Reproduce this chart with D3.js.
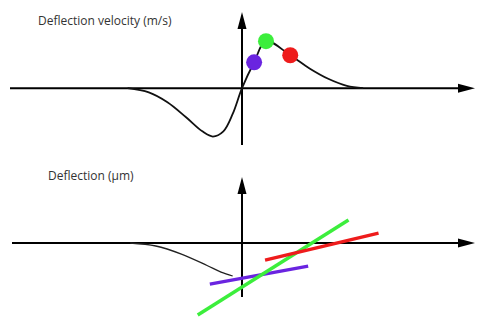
<!DOCTYPE html>
<html>
<head>
<meta charset="utf-8">
<script src="https://cdn.jsdelivr.net/npm/d3@7"></script>
<style>
  body { margin: 0; background: #fff; }
  .title { font-family: "Open Sans", sans-serif; font-size: 12px; fill: #333; }
</style>
</head>
<body>
<div id="chart"></div>
<script>
// velocity trace (time, velocity)
var velTime = [-4.91, -4.0, -3.2, -2.4, -1.7, -1.25, -0.8, -0.4, 0, 0.52, 1.03, 2.07, 2.9, 3.7, 4.5, 5.2];
var velValue = [0, -0.09, -0.3, -0.62, -0.92, -1.03, -0.92, -0.55, 0, 0.55, 1.0, 0.7, 0.42, 0.2, 0.05, 0];

// the three marked instants on the velocity curve
var markNames = ["purple", "green", "red"];
var markTime = [0.52, 1.03, 2.07];
var markValue = [0.55, 1.0, 0.7];
var markColor = ["#6a24e0", "#3cee3c", "#ee1c1c"];

// deflection trace (time, deflection)
var defTime = [-4.8, -3.7, -2.6, -1.5, -0.9, -0.4];
var defValue = [0, -0.1, -0.37, -0.75, -0.97, -1.1];

// tangent lines: start/end time and deflection
var tanT0 = [-1.38, -1.9, 0.99];
var tanD0 = [-1.37, -2.4, -0.57];
var tanT1 = [2.84, 4.57, 5.86];
var tanD1 = [-0.77, 0.77, 0.33];

var width = 481, height = 320;

var svg = d3.select("#chart").append("svg")
  .attr("width", width)
  .attr("height", height);

var x = d3.scaleLinear().domain([-10, 10]).range([9, 475]);
var yV = d3.scaleLinear().domain([-1.21, 1.62]).range([145, 12]);
var yD = d3.scaleLinear().domain([-1.8, 2.2]).range([297, 177]);

// draw a pair of arrow axes for a given y scale
function drawAxes(yScale, xStart) {
  var x0 = x(0), y0 = yScale(0);
  var xEnd = x.range()[1];
  var yTop = yScale.range()[1];
  var yBot = yScale.range()[0];

  svg.append("line")
    .attr("x1", xStart).attr("x2", xEnd - 10)
    .attr("y1", y0).attr("y2", y0)
    .attr("stroke", "#000").attr("stroke-width", 2);
  svg.append("polygon")
    .attr("points", [[xEnd, y0], [xEnd - 17, y0 - 4.5], [xEnd - 17, y0 + 4.5]].join(" "))
    .attr("fill", "#000");

  svg.append("line")
    .attr("x1", x0).attr("x2", x0)
    .attr("y1", yBot).attr("y2", yTop + 10)
    .attr("stroke", "#000").attr("stroke-width", 2);
  svg.append("polygon")
    .attr("points", [[x0, yTop], [x0 - 4.5, yTop + 17], [x0 + 4.5, yTop + 17]].join(" "))
    .attr("fill", "#000");
}

drawAxes(yV, 10);
drawAxes(yD, 12);

// titles
svg.append("text").attr("class", "title")
  .attr("x", 38).attr("y", 25)
  .text("Deflection velocity (m/s)");
svg.append("text").attr("class", "title")
  .attr("x", 48).attr("y", 180)
  .text("Deflection (µm)");

// velocity curve
var velLine = d3.line()
  .x(function(d, i) { return x(velTime[i]); })
  .y(function(d, i) { return yV(velValue[i]); })
  .curve(d3.curveCatmullRom);

svg.append("path")
  .datum(velTime)
  .attr("d", velLine)
  .attr("fill", "none")
  .attr("stroke", "#111")
  .attr("stroke-width", 1.8);

svg.selectAll("circle.mark")
  .data(markNames)
  .enter().append("circle")
  .attr("class", "mark")
  .attr("cx", function(d, i) { return x(markTime[i]); })
  .attr("cy", function(d, i) { return yV(markValue[i]); })
  .attr("r", 8)
  .attr("fill", function(d, i) { return markColor[i]; });

// deflection curve
var defLine = d3.line()
  .x(function(d, i) { return x(defTime[i]); })
  .y(function(d, i) { return yD(defValue[i]); })
  .curve(d3.curveCatmullRom);

svg.append("path")
  .datum(defTime)
  .attr("d", defLine)
  .attr("fill", "none")
  .attr("stroke", "#222")
  .attr("stroke-width", 1.3);

// tangent lines (purple, green, red)
svg.selectAll("line.tan")
  .data(markNames)
  .enter().append("line")
  .attr("class", "tan")
  .attr("x1", function(d, i) { return x(tanT0[i]); })
  .attr("y1", function(d, i) { return yD(tanD0[i]); })
  .attr("x2", function(d, i) { return x(tanT1[i]); })
  .attr("y2", function(d, i) { return yD(tanD1[i]); })
  .attr("stroke", function(d, i) { return markColor[i]; })
  .attr("stroke-width", 3.5);
</script>
</body>
</html>
